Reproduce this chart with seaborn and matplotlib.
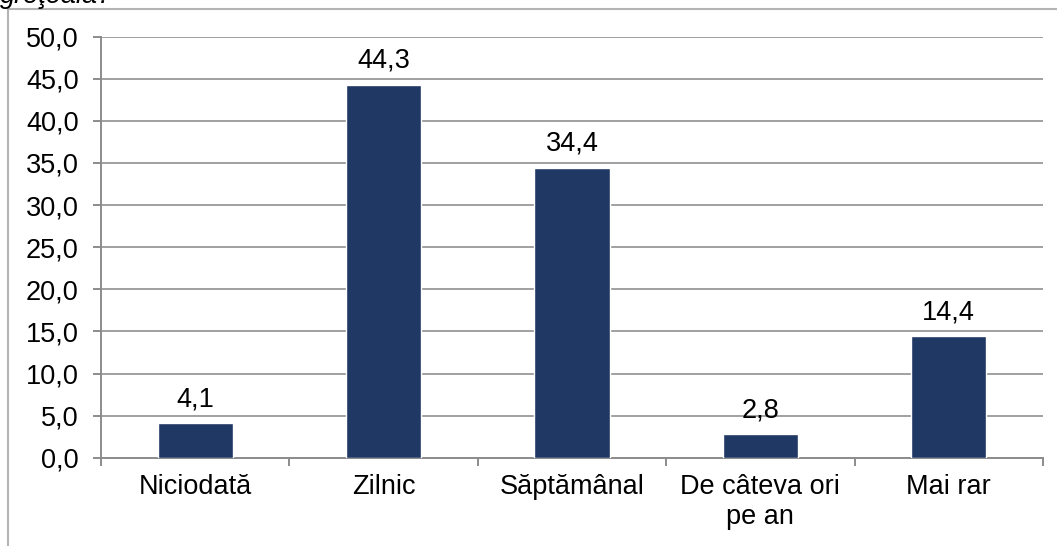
import matplotlib
matplotlib.use("Agg")
import matplotlib.pyplot as plt
from matplotlib.lines import Line2D
from matplotlib.ticker import FixedLocator, FuncFormatter
import pandas as pd
import seaborn as sns

# Data
categories = ["Niciodată", "Zilnic", "Săptămânal", "De câteva ori\npe an", "Mai rar"]
values = [4.1, 44.3, 34.4, 2.8, 14.4]
y_ticks = [0, 5, 10, 15, 20, 25, 30, 35, 40, 45, 50]

df = pd.DataFrame({"categorie": categories, "procent": values})

sns.set_style("white")
plt.rcParams["font.family"] = ["Liberation Sans", "DejaVu Sans"]
plt.rcParams["text.color"] = "black"
plt.rcParams["xtick.labelcolor"] = "black"
plt.rcParams["ytick.labelcolor"] = "black"

fs = 19.5

fig = plt.figure(figsize=(10.57, 5.46), dpi=100)
ax = fig.add_axes([101 / 1057, 1 - 457.7 / 546, (1043 - 101) / 1057, (457.7 - 36.7) / 546])

sns.barplot(data=df, x="categorie", y="procent", color="#203864", width=0.4,
            saturation=1, ax=ax, zorder=3)

ax.set_ylim(0, 50)
ax.set_xlim(-0.5, len(categories) - 0.5)
ax.set_yticks(y_ticks)
ax.yaxis.set_major_formatter(FuncFormatter(lambda v, p: f"{v:.1f}".replace(".", ",")))
ax.yaxis.grid(True, color="#a0a0a0", linewidth=1.4, zorder=0)
ax.set_axisbelow(True)
ax.set_xlabel("")
ax.set_ylabel("")

# axes styling
for side in ["top", "right"]:
    ax.spines[side].set_visible(False)
for side in ["left", "bottom"]:
    ax.spines[side].set_color("#8c8c8c")
    ax.spines[side].set_linewidth(1.4)

ax.tick_params(axis="y", length=6, width=1.4, color="#8c8c8c", pad=10, labelsize=fs,
               labelcolor="black", left=True)
ax.tick_params(axis="x", which="major", length=0, pad=12, labelsize=fs, labelcolor="black")
ax.xaxis.set_minor_locator(FixedLocator([i - 0.5 for i in range(len(categories) + 1)]))
ax.tick_params(axis="x", which="minor", length=6, width=1.4, color="#8c8c8c", bottom=True)

# value labels
ax.bar_label(ax.containers[0], labels=[f"{v:.1f}".replace(".", ",") for v in values],
             padding=8, fontsize=fs, color="black")

# chart frame (cut off on right and bottom)
fig.add_artist(Line2D([8 / 1057, 8 / 1057], [0, 1 - 9 / 546], color="#b4b4b4", lw=1.5,
                      transform=fig.transFigure))
fig.add_artist(Line2D([8 / 1057, 1], [1 - 9 / 546, 1 - 9 / 546], color="#b4b4b4", lw=1.5,
                      transform=fig.transFigure))

# title text, cut off at the top as in the source image
fig.text(0, 1 - 3 / 546, "greţoală?", fontsize=fs, style="italic", va="baseline", ha="left",
         color="black")

fig.savefig("out.png", dpi=100)
